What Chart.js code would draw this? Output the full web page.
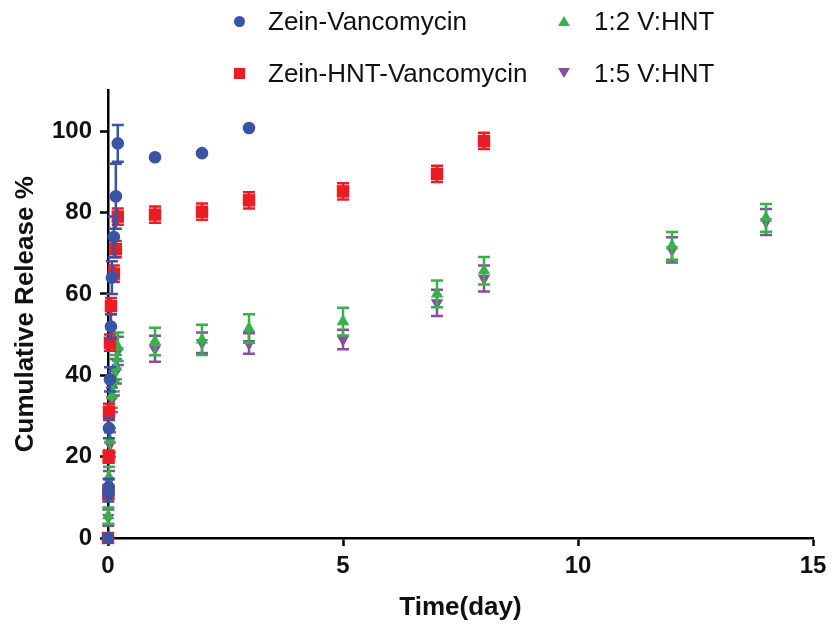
<!DOCTYPE html>
<html>
<head>
<meta charset="utf-8">
<script src="https://cdn.jsdelivr.net/npm/chart.js@4.4.1/dist/chart.umd.min.js"></script>
<style>
  html, body { margin: 0; padding: 0; background: #fff; }
  #wrap { position: relative; width: 835px; height: 633px; }
  canvas { position: absolute; left: 0; top: 0; }
  .lg { position: absolute; font-family: "Liberation Sans", Arial, sans-serif; font-size: 26px; line-height: 26px; color: #111; white-space: nowrap; }
  .mk { position: absolute; }
</style>
</head>
<body>
<div id="wrap">
  <canvas id="c" width="835" height="633"></canvas>
  <div id="legend"></div>
</div>
<script>
// ---- data ----
const seriesNames = ["Zein-Vancomycin", "Zein-HNT-Vancomycin", "1:2 V:HNT", "1:5 V:HNT"];
const seriesColors = ["#3a54a5", "#ec1c24", "#35b24a", "#8b4d9e"];

const zvTime = [0, 0.007, 0.014, 0.021, 0.042, 0.0625, 0.083, 0.125, 0.167, 0.208, 1, 2, 3];
const zvVal  = [0, 11, 12.5, 27, 39, 52, 64, 74, 84, 97, 93.6, 94.6, 100.8];
const zvErr  = [0, 2, 2, 2.5, 3, 3, 4, 5, 8, 4.5, 0, 0, 0];

const zhTime = [0, 0.007, 0.014, 0.021, 0.042, 0.0625, 0.125, 0.167, 0.208, 1, 2, 3, 5, 7, 8];
const zhVal  = [0, 11, 20, 31, 48, 57, 65, 71, 79, 79.5, 80.2, 83, 85.2, 89.5, 97.6];
const zhErr  = [0, 1.5, 1.5, 2, 2, 2, 2, 2, 2, 2, 2, 2, 2, 2, 2];

const v12Time = [0, 0.007, 0.021, 0.042, 0.083, 0.125, 0.167, 0.208, 1, 2, 3, 5, 7, 8, 12, 14];
const v12Val  = [0, 5.5, 15, 24, 35, 39, 42, 47, 48.3, 48.7, 51.5, 53.2, 60, 65.7, 71.8, 78.7];
const v12Err  = [0, 2, 2.5, 3, 3, 3, 3, 3.5, 3.4, 3.7, 3.5, 3.4, 3.3, 3.4, 3.4, 3.4];

const v15Time = [0, 0.007, 0.021, 0.042, 0.083, 0.125, 0.167, 0.208, 1, 2, 3, 5, 7, 8, 12, 14];
const v15Val  = [0, 5, 14, 23, 34, 38, 41, 46, 46.5, 48, 47.8, 48.8, 57.8, 63.8, 70.8, 77.7];
const v15Err  = [0, 2, 2.5, 3, 3, 3, 3, 3.5, 3.2, 2.5, 2.5, 2.4, 3.2, 3.2, 3.1, 3.2];

const xTicks = [0, 5, 10, 15];
const yTicks = [0, 20, 40, 60, 80, 100];

// ---- build ----
function pts(t, v) { return t.map((x, i) => ({ x: x, y: v[i] })); }

const styles = [
  { pointStyle: 'circle', radius: 6.3, rotation: 0 },
  { pointStyle: 'rect', radius: 8.8, rotation: 0 },
  { pointStyle: 'triangle', radius: 7.2, rotation: 0 },
  { pointStyle: 'triangle', radius: 7.2, rotation: 180 }
];
const allData = [[zvTime, zvVal, zvErr], [zhTime, zhVal, zhErr], [v12Time, v12Val, v12Err], [v15Time, v15Val, v15Err]];

const datasets = allData.map((d, i) => ({
  label: seriesNames[i],
  data: pts(d[0], d[1]),
  errors: d[2],
  showLine: false,
  backgroundColor: seriesColors[i],
  borderColor: seriesColors[i],
  borderWidth: 0,
  pointStyle: styles[i].pointStyle,
  pointRadius: styles[i].radius,
  pointRotation: styles[i].rotation,
  pointBorderWidth: 0,
  clip: false
}));

const errorBars = {
  id: 'errorBars',
  beforeDatasetDraw(chart, args) {
    const ds = chart.data.datasets[args.index];
    const xs = chart.scales.x, ys = chart.scales.y;
    const ctx = chart.ctx;
    ctx.save();
    ctx.strokeStyle = ds.borderColor;
    ctx.lineWidth = 2.5;
    ds.data.forEach((p, i) => {
      const e = ds.errors[i];
      if (!e) return;
      const x = xs.getPixelForValue(p.x);
      const yt = ys.getPixelForValue(p.y + e);
      const yb = ys.getPixelForValue(p.y - e);
      ctx.beginPath();
      ctx.moveTo(x, yt); ctx.lineTo(x, yb);
      ctx.moveTo(x - 6, yt); ctx.lineTo(x + 6, yt);
      ctx.moveTo(x - 6, yb); ctx.lineTo(x + 6, yb);
      ctx.stroke();
    });
    ctx.restore();
  }
};

const tickFont = { family: '"Liberation Sans", Arial, sans-serif', size: 24, weight: 'bold' };
const titleFont = { family: '"Liberation Sans", Arial, sans-serif', size: 26, weight: 'bold' };

new Chart(document.getElementById('c'), {
  type: 'scatter',
  data: { datasets: datasets },
  plugins: [errorBars],
  options: {
    responsive: false,
    animation: false,
    events: [],
    layout: { padding: { top: 90.5, right: 22, left: 0, bottom: 0 } },
    plugins: { legend: { display: false }, tooltip: { enabled: false } },
    scales: {
      x: {
        type: 'linear', min: 0, max: 15,
        afterFit(s) { s.height = 95; },
        afterBuildTicks(s) { s.ticks = xTicks.map(v => ({ value: v })); },
        ticks: { font: tickFont, color: '#111', padding: 6 },
        grid: { drawOnChartArea: false, drawTicks: true, tickLength: 8, tickWidth: 2.5, tickColor: '#000' },
        border: { display: true, color: '#000', width: 2.5 },
        title: { display: true, text: 'Time(day)', font: titleFont, color: '#111', padding: { top: 0, bottom: 10 } }
      },
      y: {
        type: 'linear', min: 0, max: 110,
        afterFit(s) { s.width = 108; },
        afterBuildTicks(s) { s.ticks = yTicks.map(v => ({ value: v })); },
        ticks: { font: tickFont, color: '#111', padding: 8 },
        grid: { drawOnChartArea: false, drawTicks: true, tickLength: 8, tickWidth: 2.5, tickColor: '#000' },
        border: { display: true, color: '#000', width: 2.5 },
        title: { display: true, text: 'Cumulative Release %', font: titleFont, color: '#111', padding: { top: 10, bottom: 0 } }
      }
    }
  }
});

// ---- HTML legend (2 x 2) ----
const legendPos = [
  { mx: 239, my: 21, tx: 268, ty: 8 },
  { mx: 239, my: 73, tx: 268, ty: 60 },
  { mx: 564, my: 21, tx: 594, ty: 8 },
  { mx: 564, my: 73, tx: 594, ty: 60 }
];
const lg = document.getElementById('legend');
seriesNames.forEach((name, i) => {
  const p = legendPos[i];
  const m = document.createElement('div');
  m.className = 'mk';
  const c = seriesColors[i];
  if (i === 0) {
    m.style.cssText = `left:${p.mx - 5.5}px;top:${p.my - 5.5}px;width:11px;height:11px;border-radius:50%;background:${c};`;
  } else if (i === 1) {
    m.style.cssText = `left:${p.mx - 5.5}px;top:${p.my - 5.5}px;width:11px;height:11px;background:${c};`;
  } else if (i === 2) {
    m.style.cssText = `left:${p.mx - 6}px;top:${p.my - 5}px;width:0;height:0;border-left:6px solid transparent;border-right:6px solid transparent;border-bottom:10px solid ${c};`;
  } else {
    m.style.cssText = `left:${p.mx - 6}px;top:${p.my - 5}px;width:0;height:0;border-left:6px solid transparent;border-right:6px solid transparent;border-top:10px solid ${c};`;
  }
  lg.appendChild(m);
  const t = document.createElement('div');
  t.className = 'lg';
  t.style.left = p.tx + 'px';
  t.style.top = p.ty + 'px';
  t.textContent = name;
  lg.appendChild(t);
});
</script>
</body>
</html>
